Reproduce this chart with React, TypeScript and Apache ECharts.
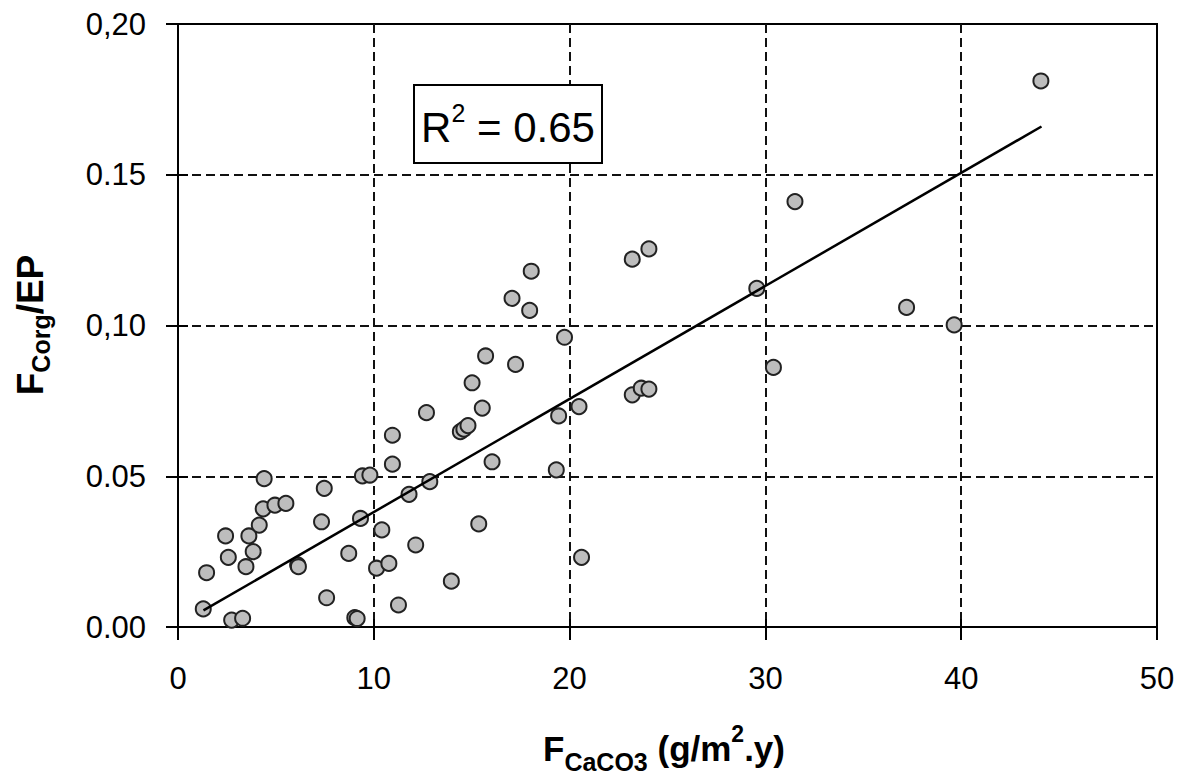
import React, { useEffect, useRef } from 'react';
import * as echarts from 'echarts';

// F CaCO3 (g/m2.y)
const fluxCaCO3 = [
  1.29, 1.46, 2.43, 2.57, 2.74, 3.30, 3.47, 3.62, 3.84, 4.15, 4.35, 4.40, 4.95, 5.51,
  6.11, 6.15, 7.33, 7.47, 7.59, 8.72, 9.03, 9.15, 9.32, 9.42, 9.80, 10.14, 10.41, 10.77,
  10.95, 10.95, 11.26, 11.80, 12.14, 12.69, 12.86, 13.96, 14.42, 14.60, 14.81, 15.02,
  15.36, 15.54, 15.71, 16.04, 17.06, 17.24, 17.96, 18.04, 19.32, 19.44, 19.74, 20.48,
  20.61, 23.20, 23.20, 23.66, 24.05, 24.05, 29.56, 30.41, 31.51, 37.21, 39.64, 44.07,
];
// F Corg / EP
const corgOverEP = [
  0.0060, 0.0180, 0.0302, 0.0231, 0.0023, 0.0029, 0.0200, 0.0302, 0.0250, 0.0338, 0.0392, 0.0492, 0.0404, 0.0410,
  0.0206, 0.0200, 0.0349, 0.0460, 0.0097, 0.0244, 0.0031, 0.0028, 0.0360, 0.0501, 0.0504, 0.0195, 0.0322, 0.0211,
  0.0540, 0.0636, 0.0073, 0.0440, 0.0272, 0.0711, 0.0482, 0.0152, 0.0648, 0.0656, 0.0668, 0.0810,
  0.0342, 0.0726, 0.0899, 0.0548, 0.1090, 0.0871, 0.1050, 0.1180, 0.0521, 0.0700, 0.0961, 0.0731,
  0.0231, 0.1220, 0.0770, 0.0792, 0.0789, 0.1254, 0.1123, 0.0861, 0.1411, 0.1060, 0.1002, 0.1811,
];
// linear trend line end points
const trendX = [1.3, 44.1];
const trendY = [0.0055, 0.166];
const rSquared = '0.65';

const xTicks = [0, 10, 20, 30, 40, 50];
const xTickLabels = ['0', '10', '20', '30', '40', '50'];
const yTicks = [0, 0.05, 0.1, 0.15, 0.2];
const yTickLabels = ['0.00', '0.05', '0,10', '0.15', '0,20'];

const FONT = "'Liberation Sans', Arial, Helvetica, sans-serif";

function labelFor(ticks: number[], labels: string[]) {
  return (v: number) => {
    const i = ticks.findIndex((t) => Math.abs(t - v) < 1e-9);
    return i >= 0 ? labels[i] : '';
  };
}

export default function App() {
  const ref = useRef<HTMLDivElement>(null);
  useEffect(() => {
    const chart = echarts.init(ref.current!, null, { renderer: 'svg' });
    const tickStyle = { color: '#000', width: 2 };
    const gridDash = { type: [9, 5] as any, color: '#111', width: 2 };
    const xBase = { type: 'value' as const, min: xTicks[0], max: xTicks[xTicks.length - 1], interval: 10 };
    const yBase = { type: 'value' as const, min: yTicks[0], max: yTicks[yTicks.length - 1], interval: 0.05 };
    const option: any = {
      animation: false,
      backgroundColor: '#fff',
      grid: { left: 178, top: 24, right: 25, bottom: 150, show: true, borderColor: '#000', borderWidth: 2, backgroundColor: 'transparent' },
      xAxis: [
        {
          ...xBase,
          axisLine: { show: true, lineStyle: { color: '#000', width: 2 } },
          axisTick: { show: true, length: 13, lineStyle: tickStyle },
          axisLabel: { margin: 36, fontSize: 31, color: '#000', fontFamily: FONT, formatter: labelFor(xTicks, xTickLabels) },
          splitLine: { show: true, showMinLine: false, showMaxLine: false, lineStyle: gridDash },
        },
        {
          ...xBase,
          position: 'bottom',
          axisLine: { show: false },
          axisTick: { show: true, inside: true, length: 8, lineStyle: tickStyle },
          axisLabel: { show: false },
          splitLine: { show: false },
        },
      ],
      yAxis: [
        {
          ...yBase,
          axisLine: { show: true, lineStyle: { color: '#000', width: 2 } },
          axisTick: { show: true, length: 12, lineStyle: tickStyle },
          axisLabel: { margin: 32, fontSize: 31, color: '#000', fontFamily: FONT, formatter: labelFor(yTicks, yTickLabels) },
          splitLine: { show: true, showMinLine: false, showMaxLine: false, lineStyle: gridDash },
        },
        {
          ...yBase,
          position: 'left',
          axisLine: { show: false },
          axisTick: { show: true, inside: true, length: 10, lineStyle: tickStyle },
          axisLabel: { show: false },
          splitLine: { show: false },
        },
      ],
      series: [
        {
          type: 'scatter',
          xAxisIndex: 0,
          yAxisIndex: 0,
          symbol: 'circle',
          symbolSize: 15,
          itemStyle: { color: '#bdbdbd', borderColor: '#222', borderWidth: 2, opacity: 1 },
          data: fluxCaCO3.map((x, i) => [x, corgOverEP[i]]),
          z: 3,
        },
        {
          type: 'line',
          xAxisIndex: 0,
          yAxisIndex: 0,
          symbol: 'none',
          lineStyle: { color: '#000', width: 2.5 },
          data: trendX.map((x, i) => [x, trendY[i]]),
          z: 4,
        },
      ],
      graphic: [
        {
          type: 'rect',
          shape: { x: 414, y: 85, width: 188, height: 78 },
          style: { fill: '#fff', stroke: '#000', lineWidth: 2 },
          z: 10,
        },
        {
          type: 'text',
          x: 508,
          y: 127,
          z: 11,
          style: {
            text: '{m|R}{s|2}{m| = ' + rSquared + '}',
            textAlign: 'center',
            textVerticalAlign: 'middle',
            fill: '#000',
            rich: {
              m: { fontSize: 42, fontFamily: FONT, fill: '#000', lineHeight: 54 },
              s: { fontSize: 25, fontFamily: FONT, fill: '#000', verticalAlign: 'top', lineHeight: 28 },
            },
          },
        },
        {
          type: 'text',
          x: 664,
          y: 748,
          style: {
            text: '{m|F}{b|CaCO3}{m| (g/m}{s|2}{m|.y)}',
            textAlign: 'center',
            textVerticalAlign: 'middle',
            fill: '#000',
            rich: {
              m: { fontSize: 35, fontWeight: 'bold', fontFamily: FONT, fill: '#000', lineHeight: 52 },
              b: { fontSize: 25, fontWeight: 'bold', fontFamily: FONT, fill: '#000', verticalAlign: 'bottom', lineHeight: 25 },
              s: { fontSize: 23, fontWeight: 'bold', fontFamily: FONT, fill: '#000', verticalAlign: 'top', lineHeight: 23 },
            },
          },
        },
        {
          type: 'text',
          x: 30,
          y: 325,
          rotation: Math.PI / 2,
          style: {
            text: '{m|F}{b|Corg}{m|/EP}',
            textAlign: 'center',
            textVerticalAlign: 'middle',
            fill: '#000',
            rich: {
              m: { fontSize: 37, fontWeight: 'bold', fontFamily: FONT, fill: '#000', lineHeight: 46 },
              b: { fontSize: 25, fontWeight: 'bold', fontFamily: FONT, fill: '#000', verticalAlign: 'bottom', lineHeight: 25 },
            },
          },
        },
      ],
    };
    chart.setOption(option);
    return () => chart.dispose();
  }, []);
  return <div ref={ref} style={{ position: 'fixed', left: 0, top: 0, width: 1182, height: 777 }} />;
}
